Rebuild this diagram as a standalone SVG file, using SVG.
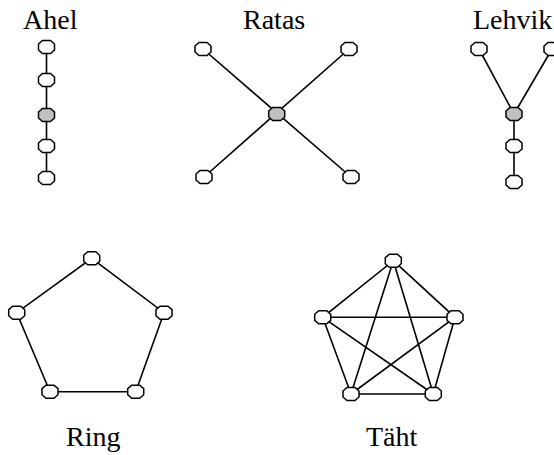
<svg xmlns="http://www.w3.org/2000/svg" xmlns:xlink="http://www.w3.org/1999/xlink" width="554" height="455" viewBox="0 0 554 455">
<style>
.lbl{font-family:"Liberation Serif","Times New Roman",serif;font-size:28px;fill:#000}
.edge{stroke:#000;stroke-width:1.6;fill:none}
.n{fill:#fff;stroke:#000;stroke-width:1.5}
.hub{fill:#c0c0c0;stroke:#000;stroke-width:1.5}
</style>
<defs>
<path id="oct" d="M-4,-6.5 L4,-6.5 L8,-3 L8,3 L4,6.5 L-4,6.5 L-8,3 L-8,-3 Z"/>
</defs>
<rect width="554" height="455" fill="#fff"/>
<g id="connectors">
<path class="edge" d="M46.5,47 L46.5,178"/>
<path class="edge" d="M203,49 L351,177 M349,49 L204,177"/>
<path class="edge" d="M479,49 L514,114 L552,49 M514,114 L514,183"/>
<path class="edge" d="M91.7,258.3 L164,312.7 L135.7,391.7 L50,391.7 L16.7,312.7 Z"/>
<path class="edge" d="M393.3,260.7 L455,317.3 L433.3,394 L351,394 L322.7,317.3 Z M393.3,260.7 L351,394 M393.3,260.7 L433.3,394 M322.7,317.3 L455,317.3 M322.7,317.3 L433.3,394 M455,317.3 L351,394"/>
</g>
<g id="ahel">
<text class="lbl" x="23" y="29">Ahel</text>
<use xlink:href="#oct" class="n" x="46.5" y="47"/>
<use xlink:href="#oct" class="n" x="46.5" y="80"/>
<use xlink:href="#oct" class="hub" x="46.5" y="115"/>
<use xlink:href="#oct" class="n" x="46.5" y="146"/>
<use xlink:href="#oct" class="n" x="46.5" y="178"/>
</g>
<g id="ratas">
<text class="lbl" x="243" y="29">Ratas</text>
<use xlink:href="#oct" class="n" x="203" y="49"/>
<use xlink:href="#oct" class="n" x="349" y="49"/>
<use xlink:href="#oct" class="hub" x="276.7" y="114"/>
<use xlink:href="#oct" class="n" x="204" y="177"/>
<use xlink:href="#oct" class="n" x="351" y="177"/>
</g>
<g id="lehvik">
<text class="lbl" x="473" y="29">Lehvik</text>
<use xlink:href="#oct" class="n" x="479" y="49"/>
<use xlink:href="#oct" class="n" x="552" y="49"/>
<use xlink:href="#oct" class="hub" x="514" y="114"/>
<use xlink:href="#oct" class="n" x="514" y="146"/>
<use xlink:href="#oct" class="n" x="514" y="182"/>
</g>
<g id="ring">
<use xlink:href="#oct" class="n" x="91.7" y="258.3"/>
<use xlink:href="#oct" class="n" x="16.7" y="312.7"/>
<use xlink:href="#oct" class="n" x="164" y="312.7"/>
<use xlink:href="#oct" class="n" x="50" y="391.7"/>
<use xlink:href="#oct" class="n" x="135.7" y="391.7"/>
<text class="lbl" x="66" y="446">Ring</text>
</g>
<g id="taht">
<use xlink:href="#oct" class="n" x="393.3" y="260.7"/>
<use xlink:href="#oct" class="n" x="322.7" y="317.3"/>
<use xlink:href="#oct" class="n" x="455" y="317.3"/>
<use xlink:href="#oct" class="n" x="351" y="394"/>
<use xlink:href="#oct" class="n" x="433.3" y="394"/>
<text class="lbl" x="366" y="446">Täht</text>
</g>
</svg>
